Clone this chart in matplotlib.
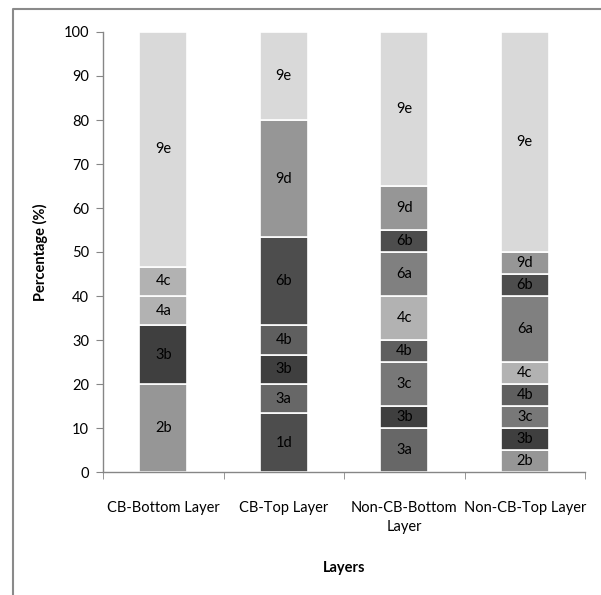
import matplotlib
matplotlib.use("Agg")
import matplotlib.pyplot as plt
from matplotlib.lines import Line2D

plt.rcParams['font.family'] = ['Lato', 'DejaVu Sans']

categories = ["CB-Bottom Layer", "CB-Top Layer", "Non-CB-Bottom\nLayer", "Non-CB-Top Layer"]

# stacked segments per layer, bottom to top: (label, percentage)
cb_bottom = [("2b", 20.0), ("3b", 13.3), ("4a", 6.7), ("4c", 6.7), ("9e", 53.3)]
cb_top = [("1d", 13.3), ("3a", 6.7), ("3b", 6.7), ("4b", 6.6), ("6b", 20.0), ("9d", 26.7), ("9e", 20.0)]
noncb_bottom = [("3a", 10), ("3b", 5), ("3c", 10), ("4b", 5), ("4c", 10), ("6a", 10), ("6b", 5), ("9d", 10), ("9e", 35)]
noncb_top = [("2b", 5), ("3b", 5), ("3c", 5), ("4b", 5), ("4c", 5), ("6a", 15), ("6b", 5), ("9d", 5), ("9e", 50)]

stacks = [cb_bottom, cb_top, noncb_bottom, noncb_top]

colors = {
    "1d": "#4d4d4d", "2b": "#969696", "3a": "#676767", "3b": "#3f3f3f",
    "3c": "#787878", "4a": "#b2b2b2", "4b": "#5f5f5f", "4c": "#b2b2b2",
    "6a": "#808080", "6b": "#4d4d4d", "9d": "#969696", "9e": "#d9d9d9",
}

fig = plt.figure(figsize=(6.01, 5.95), dpi=100)
ax = fig.add_axes([103 / 601, 1 - 472 / 595, 482 / 601, 440 / 595])

axis_col = "#868686"
for i, stack in enumerate(stacks):
    bottom = 0.0
    for lab, val in stack:
        ax.bar(i, val, bottom=bottom, width=0.40, color=colors[lab],
               edgecolor="white", linewidth=1.2, zorder=2)
        ax.text(i, bottom + val / 2, lab, ha="center", va="center",
                fontsize=10.5, color="black", zorder=3)
        bottom += val

ax.set_xlim(-0.5, len(categories) - 0.5)
ax.set_ylim(0, 100)
ax.set_yticks(range(0, 101, 10))
ax.set_xticks(range(len(categories)))
ax.set_xticklabels(categories, fontsize=10.5, linespacing=1.45)
ax.set_xticks([i - 0.5 for i in range(len(categories) + 1)], minor=True)
ax.tick_params(axis="x", which="major", length=0, pad=21)
ax.tick_params(axis="x", which="minor", length=5, color=axis_col, direction="out")
ax.tick_params(axis="y", length=5, color=axis_col, direction="out", labelsize=10.5, pad=5)

for side in ("top", "right"):
    ax.spines[side].set_visible(False)
for side in ("left", "bottom"):
    ax.spines[side].set_color(axis_col)
    ax.spines[side].set_linewidth(1.0)

ax.set_ylabel("Percentage (%)", fontsize=10.5, fontweight="bold", labelpad=11)
ax.set_xlabel("Layers", fontsize=10.5, fontweight="bold", labelpad=19)

# chart area border on the left and top
fig.add_artist(Line2D([13 / 601, 13 / 601, 1.0], [0.0, 1 - 9 / 595, 1 - 9 / 595],
                      transform=fig.transFigure, color="#8a8a8a", linewidth=1.5))

fig.savefig("out.png", dpi=100)
